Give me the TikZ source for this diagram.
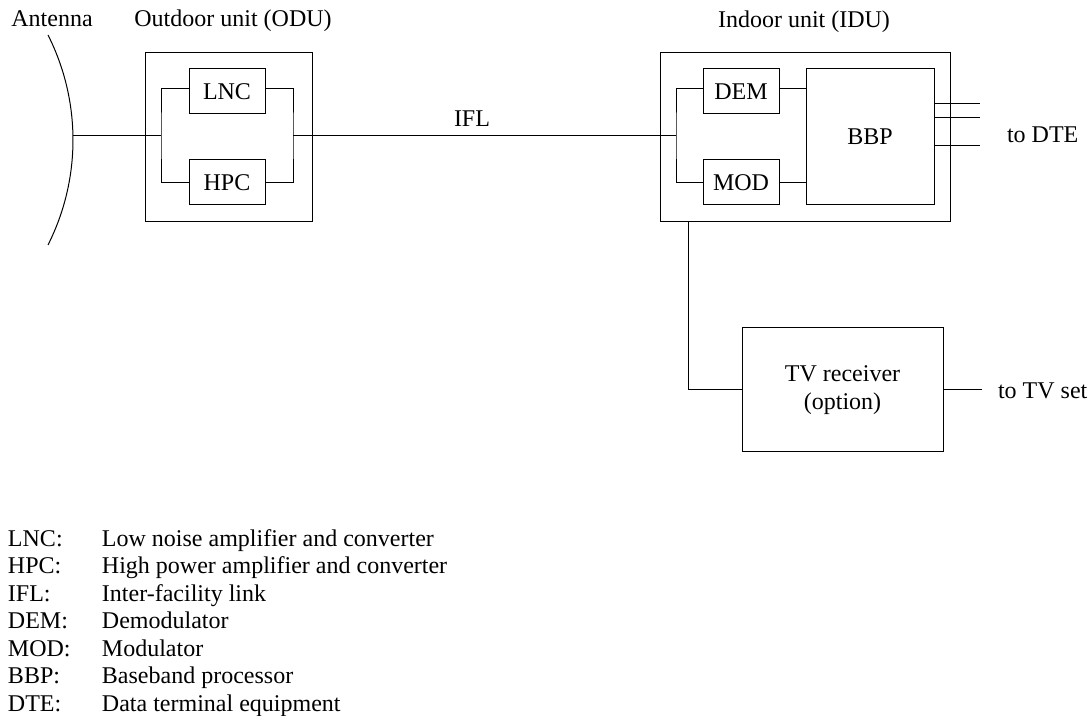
\documentclass[tikz,border=0pt]{standalone}
\usepackage{fontspec}
\setmainfont{Liberation Serif}
\begin{document}
\begin{tikzpicture}[x=0.5pt,y=-0.5pt,
  every node/.style={font=\fontsize{12}{13.75}\selectfont},
  blk/.style={draw, line width=0.5pt, inner sep=0pt, outer sep=0pt},
  lbl/.style={inner sep=0pt, outer sep=0pt},
  wire/.style={line width=0.5pt}]
\useasboundingbox (0,0) rectangle (1092,716);

% titles
\node[lbl, anchor=base] (antlbl) at (52,27) {Antenna};
\node[lbl, anchor=base] (odulbl) at (233,27) {Outdoor unit (ODU)};
\node[lbl, anchor=base] (idulbl) at (804,28) {Indoor unit (IDU)};

% antenna
\draw[wire] (48,35) arc[start angle=26.78, end angle=-26.78, radius=116.5pt];
\coordinate (ant) at (73,136);

% ODU
\node[blk, minimum width=83.5pt, minimum height=84.5pt] (odu) at (228.5,137.5) {};
\node[blk, minimum width=38pt, minimum height=22.5pt] (lnc) at (227,91.5) {LNC};
\node[blk, minimum width=38pt, minimum height=22.5pt] (hpc) at (227,182.5) {HPC};
\coordinate (bl) at (161,136);
\coordinate (br) at (293,136);

% IDU
\node[blk, minimum width=145pt, minimum height=84.5pt] (idu) at (805,137.5) {};
\node[blk, minimum width=38pt, minimum height=22.5pt] (dem) at (741,91.5) {DEM};
\node[blk, minimum width=38pt, minimum height=22.5pt] (mod) at (741,182.5) {MOD};
\node[blk, minimum width=64pt, minimum height=68pt] (bbp) at (870,137) {BBP};
\coordinate (ib) at (676,136);

% IFL label
\node[lbl, anchor=base] (ifl) at (472,127) {IFL};

% wires ODU
\draw[wire] (ant) -- (bl);
\draw[wire] ([yshift=1.25pt]lnc.west) -| (bl) |- (hpc.west);
\draw[wire] ([yshift=1.25pt]lnc.east) -| (br) |- (hpc.east);
\draw[wire] (br) -- (ib);
% wires IDU
\draw[wire] ([yshift=1.25pt]dem.west) -| (ib) |- (mod.west);
\draw[wire] ([yshift=1.25pt]dem.east) -- ([yshift=1.25pt]dem.east -| bbp.west);
\draw[wire] (mod.east) -- (mod.east -| bbp.west);

% to DTE
\coordinate (d1) at (980,104);
\coordinate (d2) at (980,118);
\coordinate (d3) at (980,146);
\draw[wire] (bbp.east |- d1) -- (d1);
\draw[wire] (bbp.east |- d2) -- (d2);
\draw[wire] (bbp.east |- d3) -- (d3);
\node[lbl, anchor=base west] (dte) at (1007,143) {to DTE};

% TV receiver
\node[blk, minimum width=100.5pt, minimum height=62pt, align=center] (tv) at (842.5,390) {TV receiver\\(option)};
\draw[wire] ([xshift=14pt]idu.south west) |- (tv.west);
\coordinate (tvout) at (982,390);
\draw[wire] (tv.east) -- (tvout);
\node[lbl, anchor=base west] (tvset) at (998,399) {to TV set};

% legend
\node[lbl, anchor=base west] (legend) at (8,546) {%
\begin{tabular}[t]{@{}p{47pt}@{}l@{}}
LNC: & Low noise amplifier and converter\\
HPC: & High power amplifier and converter\\
IFL: & Inter-facility link\\
DEM: & Demodulator\\
MOD: & Modulator\\
BBP: & Baseband processor\\
DTE: & Data terminal equipment
\end{tabular}};
\end{tikzpicture}
\end{document}
